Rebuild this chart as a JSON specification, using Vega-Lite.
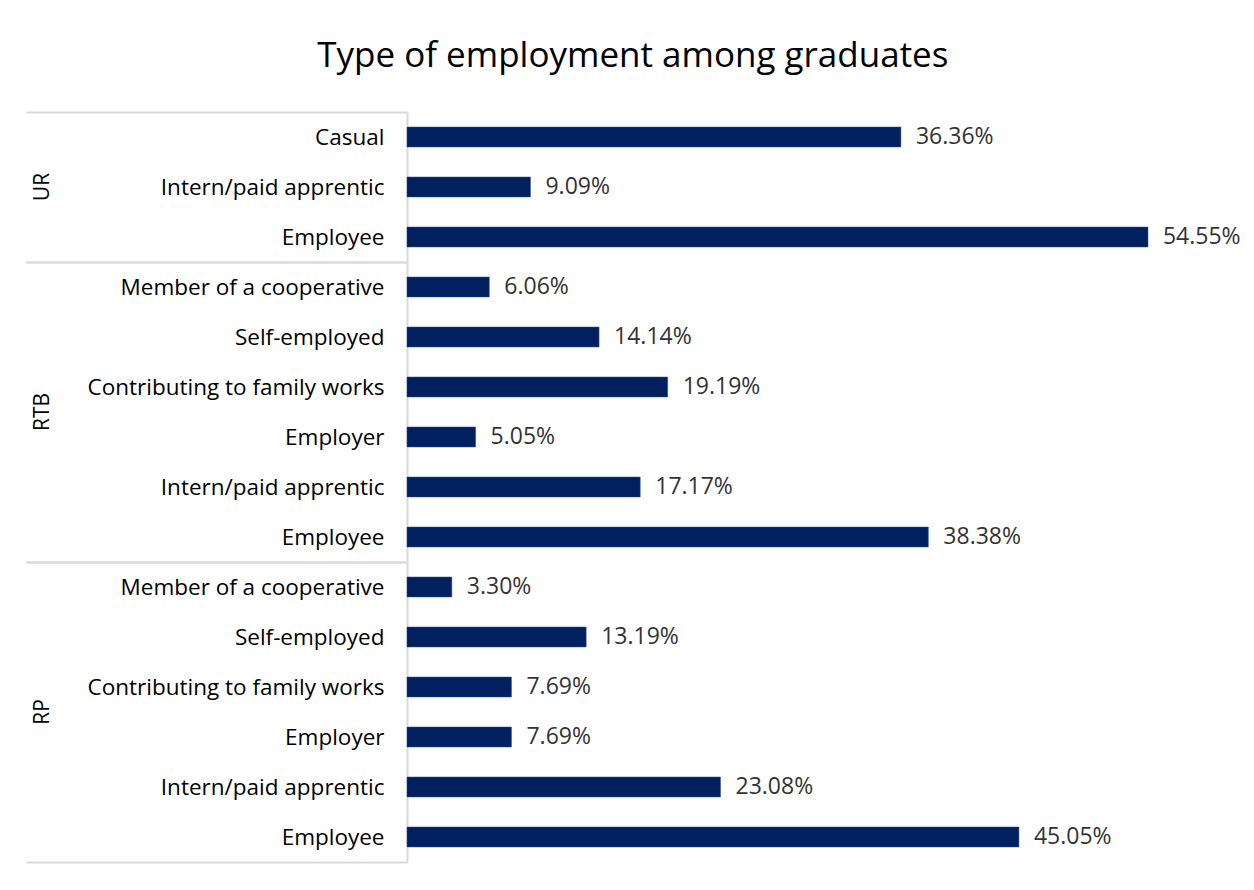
{
  "$schema": "https://vega.github.io/schema/vega-lite/v6.json",
  "padding": {"left": 25, "top": 39, "right": 5, "bottom": 5},
  "bounds": "flush",
  "title": {"text": "Type of employment among graduates", "fontSize": 35, "font": "Open Sans", "fontWeight": "normal", "color": "#000000", "anchor": "middle", "offset": 27},
  "data": {"values": [
    {"group": "UR", "category": "Casual", "order": 1, "value": 0.3636},
    {"group": "UR", "category": "Intern/paid apprentic", "order": 2, "value": 0.0909},
    {"group": "UR", "category": "Employee", "order": 3, "value": 0.5455},
    {"group": "RTB", "category": "Member of a cooperative", "order": 1, "value": 0.0606},
    {"group": "RTB", "category": "Self-employed", "order": 2, "value": 0.1414},
    {"group": "RTB", "category": "Contributing to family works", "order": 3, "value": 0.1919},
    {"group": "RTB", "category": "Employer", "order": 4, "value": 0.0505},
    {"group": "RTB", "category": "Intern/paid apprentic", "order": 5, "value": 0.1717},
    {"group": "RTB", "category": "Employee", "order": 6, "value": 0.3838},
    {"group": "RP", "category": "Member of a cooperative", "order": 1, "value": 0.033},
    {"group": "RP", "category": "Self-employed", "order": 2, "value": 0.1319},
    {"group": "RP", "category": "Contributing to family works", "order": 3, "value": 0.0769},
    {"group": "RP", "category": "Employer", "order": 4, "value": 0.0769},
    {"group": "RP", "category": "Intern/paid apprentic", "order": 5, "value": 0.2308},
    {"group": "RP", "category": "Employee", "order": 6, "value": 0.4505}
  ]},
  "facet": {"row": {"field": "group", "type": "nominal", "sort": ["UR", "RTB", "RP"],
    "header": {"title": null, "labelAngle": -90, "labelOrient": "left", "labelAlign": "center", "labelFontSize": 21, "labelFont": "Open Sans", "labelColor": "#000000", "labelPadding": 343}}},
  "spacing": {"row": 0},
  "resolve": {"scale": {"y": "independent"}},
  "spec": {
    "width": 815,
    "height": {"step": 50},
    "encoding": {
      "y": {"field": "category", "type": "nominal", "sort": {"field": "order", "op": "min"},
        "scale": {"paddingInner": 0, "paddingOuter": 0},
        "axis": {"title": null, "domainColor": "#d9d9d9", "domainWidth": 2,
          "tickBand": "extent", "tickSize": 381, "tickWidth": 2,
          "tickColor": {"condition": {"test": "datum.value === 'Employee' || datum.label === ''", "value": "#d9d9d9"}, "value": "transparent"},
          "labelPadding": -358, "labelFontSize": 22.5, "labelFont": "Open Sans", "labelColor": "#000000", "labelLimit": 400}},
      "x": {"field": "value", "type": "quantitative", "scale": {"domain": [0, 0.6]}, "axis": null}
    },
    "layer": [
      {"mark": {"type": "bar", "color": "#002060", "stroke": "#2f4f8f", "strokeWidth": 0.5, "height": {"band": 0.4}}},
      {"mark": {"type": "text", "align": "left", "dx": 15, "fontSize": 23, "font": "Open Sans", "color": "#333333"},
        "encoding": {"text": {"field": "value", "type": "quantitative", "format": ".2%"}}}
    ]
  },
  "config": {"view": {"stroke": null}}
}
